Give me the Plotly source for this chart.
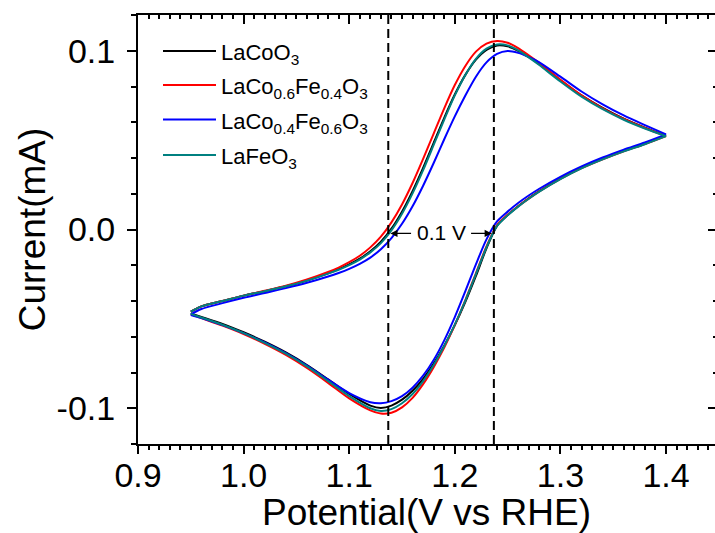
import plotly.graph_objects as go

# ---------------- data ----------------
SERIES_NAMES = [
    "LaCoO<sub>3</sub>",
    "LaCo<sub>0.6</sub>Fe<sub>0.4</sub>O<sub>3</sub>",
    "LaCo<sub>0.4</sub>Fe<sub>0.6</sub>O<sub>3</sub>",
    "LaFeO<sub>3</sub>",
]
COLORS = ["#000000", "#ff0000", "#0000ff", "#008080"]

# forward (anodic) sweep potentials, V vs RHE
X_FWD = [0.95, 0.96, 0.98, 1.00, 1.02, 1.04, 1.06, 1.08, 1.09, 1.10, 1.11, 1.12,
         1.13, 1.14, 1.15, 1.16, 1.17, 1.18, 1.19, 1.20, 1.21, 1.22, 1.23, 1.24,
         1.25, 1.26, 1.27, 1.28, 1.30, 1.32, 1.34, 1.36, 1.38, 1.40]
# reverse (cathodic) sweep potentials, V vs RHE
X_REV = [1.40, 1.38, 1.36, 1.34, 1.32, 1.30, 1.28, 1.27, 1.26, 1.25, 1.24, 1.23,
         1.22, 1.21, 1.20, 1.19, 1.18, 1.17, 1.16, 1.15, 1.14, 1.13, 1.12, 1.10,
         1.08, 1.06, 1.04, 1.02, 1.00, 0.98, 0.96, 0.95]

# currents, mA
LACOO3_FWD = [-0.0460, -0.0430, -0.0400, -0.0370, -0.0345, -0.0318, -0.0285, -0.0245,
              -0.0222, -0.0195, -0.0163, -0.0122, -0.0068, 0.0005, 0.0100, 0.0215,
              0.0345, 0.0485, 0.0625, 0.0755, 0.0865, 0.0950, 0.1005, 0.1030, 0.1025,
              0.1000, 0.0965, 0.0925, 0.0835, 0.0750, 0.0680, 0.0620, 0.0570, 0.0525]
LACOO3_REV = [0.0525, 0.0480, 0.0440, 0.0395, 0.0345, 0.0285, 0.0215, 0.0175, 0.0130,
              0.0080, 0.0020, -0.0105, -0.0260, -0.0405, -0.0535, -0.0650, -0.0750,
              -0.0835, -0.0902, -0.0952, -0.0985, -0.0998, -0.0985, -0.0920, -0.0838,
              -0.0758, -0.0688, -0.0628, -0.0575, -0.0528, -0.0489, -0.0470]

LACOFE64_FWD = [-0.0460, -0.0430, -0.0400, -0.0370, -0.0343, -0.0315, -0.0280, -0.0238,
                -0.0213, -0.0183, -0.0147, -0.0100, -0.0040, 0.0040, 0.0140, 0.0260,
                0.0395, 0.0537, 0.0678, 0.0808, 0.0915, 0.0995, 0.1040, 0.1055, 0.1045,
                0.1015, 0.0975, 0.0932, 0.0838, 0.0750, 0.0678, 0.0618, 0.0568, 0.0523]
LACOFE64_REV = [0.0523, 0.0478, 0.0438, 0.0393, 0.0343, 0.0283, 0.0213, 0.0173, 0.0130,
                0.0082, 0.0025, -0.0095, -0.0245, -0.0395, -0.0535, -0.0660, -0.0770,
                -0.0865, -0.0942, -0.0995, -0.1025, -0.1030, -0.1012, -0.0945, -0.0858,
                -0.0775, -0.0702, -0.0640, -0.0585, -0.0538, -0.0496, -0.0475]

LACOFE46_FWD = [-0.0475, -0.0445, -0.0412, -0.0382, -0.0355, -0.0328, -0.0298, -0.0263,
                -0.0243, -0.0220, -0.0192, -0.0157, -0.0110, -0.0048, 0.0032, 0.0130,
                0.0245, 0.0372, 0.0505, 0.0633, 0.0750, 0.0855, 0.0935, 0.0982, 0.0998,
                0.0988, 0.0965, 0.0935, 0.0855, 0.0772, 0.0700, 0.0638, 0.0584, 0.0532]
LACOFE46_REV = [0.0532, 0.0487, 0.0447, 0.0403, 0.0353, 0.0295, 0.0228, 0.0190, 0.0148,
                0.0100, 0.0045, -0.0055, -0.0195, -0.0345, -0.0490, -0.0620, -0.0730,
                -0.0818, -0.0885, -0.0932, -0.0960, -0.0972, -0.0966, -0.0915, -0.0840,
                -0.0762, -0.0692, -0.0632, -0.0580, -0.0535, -0.0495, -0.0478]

LAFEO3_FWD = [-0.0460, -0.0430, -0.0400, -0.0370, -0.0345, -0.0318, -0.0286, -0.0247,
              -0.0225, -0.0199, -0.0168, -0.0128, -0.0076, -0.0005, 0.0088, 0.0202,
              0.0332, 0.0473, 0.0615, 0.0750, 0.0865, 0.0955, 0.1012, 0.1035, 0.1030,
              0.1002, 0.0963, 0.0920, 0.0828, 0.0743, 0.0673, 0.0614, 0.0565, 0.0522]
LAFEO3_REV = [0.0522, 0.0477, 0.0437, 0.0392, 0.0342, 0.0282, 0.0212, 0.0172, 0.0128,
              0.0079, 0.0020, -0.0100, -0.0250, -0.0398, -0.0532, -0.0652, -0.0758,
              -0.0848, -0.0920, -0.0972, -0.1005, -0.1015, -0.1000, -0.0932, -0.0848,
              -0.0766, -0.0695, -0.0634, -0.0580, -0.0533, -0.0492, -0.0472]

FWD = [LACOO3_FWD, LACOFE64_FWD, LACOFE46_FWD, LAFEO3_FWD]
REV = [LACOO3_REV, LACOFE64_REV, LACOFE46_REV, LAFEO3_REV]

PEAK_POTENTIALS = [1.137, 1.237]      # dashed reference lines
SEPARATION_LABEL = "0.1 V"

X_RANGE = [0.9, 1.4464]
Y_RANGE = [-0.12, 0.12]
Y_TICKS = [-0.1, 0.0, 0.1]
Y_TICK_LABELS = ["-0.1", "0.0", "0.1"]

FONT = "Liberation Sans, Arial, Helvetica, sans-serif"

# ---------------- figure ----------------
fig = go.Figure()
for name, color, yf, yr in zip(SERIES_NAMES, COLORS, FWD, REV):
    for xs, ys in ((X_FWD, yf), (X_REV, yr)):
        fig.add_trace(go.Scatter(x=xs, y=ys, mode="lines", name=name, legendgroup=name,
                                 line=dict(color=color, width=2, shape="spline",
                                           smoothing=0.8),
                                 showlegend=False, hoverinfo="skip"))

# dummy trace so the mirrored (top/right) axes exist
fig.add_trace(go.Scatter(x=[None], y=[None], xaxis="x2", yaxis="y2",
                         showlegend=False, hoverinfo="skip"))

# dashed vertical lines
for xp in PEAK_POTENTIALS:
    fig.add_shape(type="line", xref="x", yref="paper", x0=xp, x1=xp, y0=0, y1=1,
                  line=dict(color="black", width=2, dash="9px,5px"))

# peak separation annotation
yarr = -0.0022
xl, xr = PEAK_POTENTIALS
xm = (xl + xr) / 2
fig.add_annotation(x=xm + 0.0005, y=-0.0015, xref="x", yref="y", text=SEPARATION_LABEL,
                   showarrow=False, font=dict(family=FONT, size=21, color="black"))
for tip, tail in [(xl + 0.002, xm - 0.027), (xr - 0.002, xm + 0.027)]:
    fig.add_annotation(x=tip, y=yarr, ax=tail, ay=yarr, xref="x", yref="y",
                       axref="x", ayref="y", text="", showarrow=True,
                       arrowhead=2, arrowsize=1.1, arrowwidth=1.3, arrowcolor="black")

# legend drawn as long sample lines with labels, as in the reference
PLOT_L, PLOT_R, PLOT_T, PLOT_B = 138, 715, 15, 444
def px2paper(px, py):
    return (px - PLOT_L) / (PLOT_R - PLOT_L), (PLOT_B - py) / (PLOT_B - PLOT_T)

legend_rows = [51, 85, 119.5, 155]
for name, color, py in zip(SERIES_NAMES, COLORS, legend_rows):
    x0, y0 = px2paper(163, py)
    x1, _ = px2paper(216, py)
    fig.add_shape(type="line", xref="paper", yref="paper", x0=x0, x1=x1, y0=y0, y1=y0,
                  line=dict(color=color, width=2.2))
    tx, ty = px2paper(219, py + 3)
    fig.add_annotation(x=tx, y=ty, xref="paper", yref="paper", text=name,
                       showarrow=False, xanchor="left", yanchor="middle",
                       font=dict(family=FONT, size=22, color="black"))

axis_common = dict(showgrid=False, zeroline=False, linecolor="black", linewidth=2,
                   tickcolor="black", tickwidth=1.5)

fig.update_layout(
    width=715, height=533,
    margin=dict(l=PLOT_L, r=715 - PLOT_R, t=PLOT_T, b=533 - PLOT_B),
    paper_bgcolor="white", plot_bgcolor="white",
    font=dict(family=FONT, color="black"),
    showlegend=False,
    xaxis=dict(range=X_RANGE, tick0=0.9, dtick=0.1, tickformat=".1f",
               ticks="outside", ticklen=8, showline=True, automargin=False,
               tickfont=dict(size=34, family=FONT), ticklabelstandoff=-8,
               minor=dict(ticks="outside", ticklen=4, tick0=0.9, dtick=0.01,
                          tickcolor="black", tickwidth=1.5, showgrid=False),
               title=dict(text="Potential(V vs RHE)", font=dict(size=37, family=FONT),
                          standoff=11),
               **axis_common),
    yaxis=dict(range=Y_RANGE, tickmode="array", tickvals=Y_TICKS, ticktext=Y_TICK_LABELS,
               ticks="outside", ticklen=9, showline=True, automargin=False,
               tickfont=dict(size=34, family=FONT), ticklabelstandoff=5,
               minor=dict(ticks="outside", ticklen=5, tickmode="linear", tick0=0, dtick=0.02,
                          tickcolor="black", tickwidth=1.5, showgrid=False),
               title=dict(text="Current(mA)", font=dict(size=37, family=FONT), standoff=0),
               **axis_common),
    xaxis2=dict(range=X_RANGE, overlaying="x", side="top", anchor="y2",
                tick0=0.9, dtick=0.1, ticks="inside", ticklen=9, showline=True,
                showticklabels=False,
                minor=dict(ticks="inside", ticklen=4, tick0=0.9, dtick=0.01,
                           tickcolor="black", tickwidth=1.5, showgrid=False),
                **axis_common),
    yaxis2=dict(range=Y_RANGE, overlaying="y", side="right", anchor="x2",
                tickmode="array", tickvals=Y_TICKS, ticks="inside", ticklen=7,
                showline=False, showticklabels=False,
                minor=dict(ticks="inside", ticklen=2, tickmode="linear", tick0=0, dtick=0.02,
                           tickcolor="black", tickwidth=1.5, showgrid=False),
                showgrid=False, zeroline=False, tickcolor="black", tickwidth=1.5),
)

# the default page body has an 8px margin; remove it so the figure fills the window
fig.write_html("out.html", config={"displayModeBar": False},
               post_script="document.body.style.margin='0px';")
